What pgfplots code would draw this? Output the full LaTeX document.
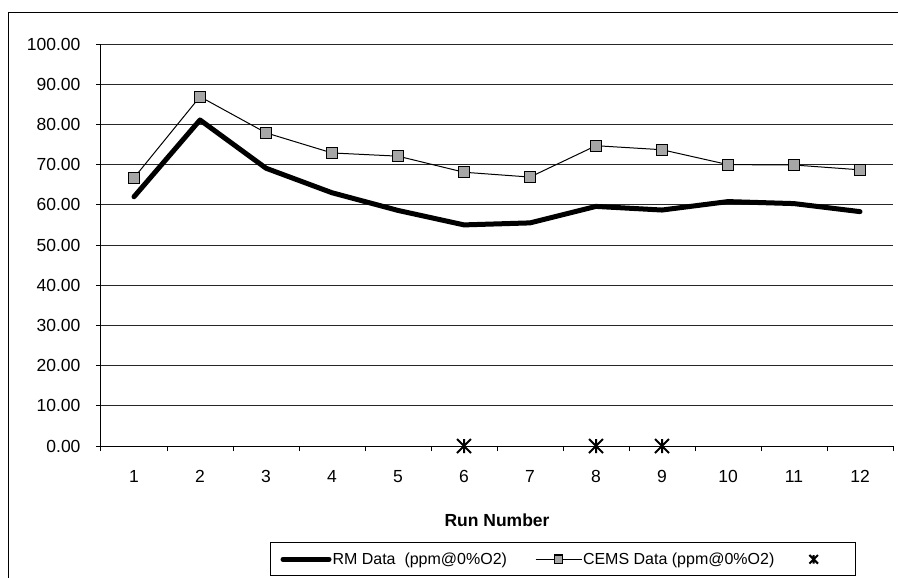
\documentclass[border=0pt]{standalone}
\usepackage{pgfplots}
\pgfplotsset{compat=1.18}
\usepackage{fontspec}
\setmainfont{Liberation Sans}
\newcommand{\chartfont}{\fontsize{17.5}{20}\selectfont}
\newcommand{\legfont}{\fontsize{16}{19}\selectfont}
\pgfdeclareplotmark{xvert}{%
  \pgfpathmoveto{\pgfqpoint{-\pgfplotmarksize}{-\pgfplotmarksize}}%
  \pgfpathlineto{\pgfqpoint{\pgfplotmarksize}{\pgfplotmarksize}}%
  \pgfpathmoveto{\pgfqpoint{-\pgfplotmarksize}{\pgfplotmarksize}}%
  \pgfpathlineto{\pgfqpoint{\pgfplotmarksize}{-\pgfplotmarksize}}%
  \pgfpathmoveto{\pgfqpoint{0pt}{-\pgfplotmarksize}}%
  \pgfpathlineto{\pgfqpoint{0pt}{\pgfplotmarksize}}%
  \pgfusepathqstroke}
\begin{document}
\begin{tikzpicture}
\useasboundingbox (0pt,0pt) rectangle (898pt,-578pt);
\draw[line width=1pt] (8pt,-13pt) rectangle (920pt,-600pt);
\begin{axis}[
  at={(101pt,-446pt)}, anchor=south west,
  scale only axis, width=792pt, height=402pt,
  xmin=0.5, xmax=12.5, ymin=0, ymax=100,
  axis x line*=bottom, axis y line*=left,
  axis line style={black, line width=1pt, -},
  xtick={1,...,12},
  minor xtick={0.5,1.5,...,12.5},
  major x tick style={draw=none},
  minor x tick style={black, line width=1pt},
  ytick={0,10,...,100},
  y tick style={black, line width=1pt},
  tick align=outside,
  major tick length=5pt, minor tick length=5pt,
  ymajorgrids, grid style={black!85, line width=0.7pt},
  clip=false,
  /pgf/number format/assume math mode=true,
  tick label style={font=\chartfont},
  yticklabel style={xshift=-12pt, /pgf/number format/.cd, fixed, fixed zerofill, precision=2},
  xticklabel style={yshift=-16pt},
  xlabel={Run Number},
  xlabel style={font=\chartfont\bfseries, at={(axis description cs:0.5,0)}, anchor=center, yshift=-74pt},
  legend columns=3,
  legend style={at={(0.2134,-0.2395)}, anchor=north west, draw=black, line width=1pt,
    font=\legfont, inner xsep=10pt, inner ysep=8pt,
    nodes={inner xsep=1pt},
    /tikz/every even column/.append style={column sep=15pt}},
  legend image code/.code={\draw[mark repeat=2, mark phase=2, #1, mark size=4.3pt] plot coordinates {(0pt,0pt) (23pt,0pt) (46pt,0pt)};},
]
\addplot[black, line width=5pt, line join=round, line cap=round] coordinates {
(1,62.0) (2,81.1) (3,69.1) (4,63.0) (5,58.6) (6,55.0) (7,55.5) (8,59.6) (9,58.7) (10,60.8) (11,60.3) (12,58.3)};
\addlegendentry{RM Data~~(ppm@0\%O2)\hspace*{12pt}}
\addplot[black, line width=1pt, mark=square*, mark size=5.5pt, mark options={fill=gray!70, draw=black, line width=1.2pt}] coordinates {
(1,66.7) (2,86.9) (3,77.9) (4,72.9) (5,72.1) (6,68.1) (7,66.9) (8,74.7) (9,73.7) (10,70.0) (11,69.9) (12,68.7)};
\addlegendentry{CEMS Data (ppm@0\%O2)\hspace*{19pt}}
\addplot[only marks, black, mark=xvert, mark size=7pt, mark options={line width=2pt}] coordinates {
(6,0) (8,0) (9,0)};
\addlegendentry{\hspace*{25pt}}
\end{axis}
\end{tikzpicture}
\end{document}
